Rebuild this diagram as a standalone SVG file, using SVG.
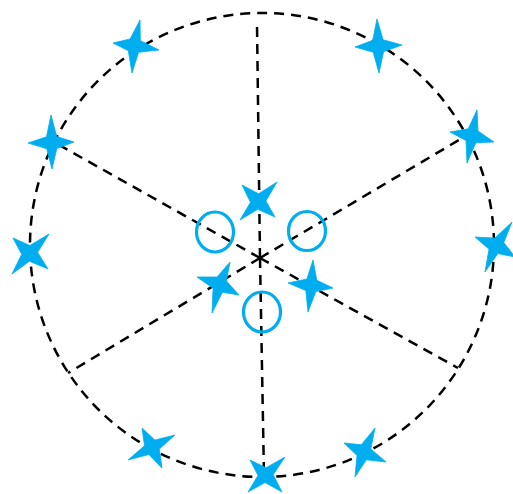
<svg xmlns="http://www.w3.org/2000/svg" width="513" height="494" viewBox="0 0 513 494">
<style>
.d{fill:none;stroke:#000;stroke-width:2.5;stroke-dasharray:10,7}
.s{fill:#00AEEF;stroke:#00AEEF;stroke-width:0.8;stroke-linejoin:round}
.o{fill:none;stroke:#00AEEF;stroke-width:3.2}
</style>
<rect width="513" height="494" fill="#fff"/>
<g id="connectors">
<circle class="d" cx="262" cy="245" r="232"/>
<line class="d" x1="260" y1="258" x2="257" y2="24"/>
<line class="d" x1="260" y1="258" x2="469" y2="134"/>
<line class="d" x1="260" y1="258" x2="458" y2="368"/>
<line class="d" x1="260" y1="258" x2="264" y2="476"/>
<line class="d" x1="260" y1="258" x2="68" y2="373"/>
<line class="d" x1="260" y1="258" x2="52" y2="141"/>
</g>
<g id="star1"><path class="s" d="M140,20 L140.3,40.6 L159,50 L138.6,52.3 L132,73 L128.3,50.7 L113,43 L130.1,39Z"/></g>
<g id="star2"><path class="s" d="M377,19 L383.1,39.8 L402,45 L383.6,51.7 L379,73 L373.2,52.2 L355,47 L372.7,40.3Z"/></g>
<g id="star3"><path class="s" d="M51,115 L56.7,136.6 L74,142 L56.8,148.6 L52,169 L46.7,148.7 L28,143 L46.5,136.8Z"/></g>
<g id="star4"><path class="s" d="M13,238 L29.9,245.5 L49,234 L37.6,252.35 L48,269 L29.4,261.2 L12,274 L21.7,254.3Z"/></g>
<g id="star5"><path class="s" d="M477,110 L478,131 L494,142 L475.8,142.8 L467,163 L466,140.5 L450,132 L468.2,128.8Z"/></g>
<g id="star6"><path class="s" d="M512,222 L503.8,242.5 L515,257 L497.8,253.6 L485,272 L489,249.2 L475,237 L494.9,238.1Z"/></g>
<g id="star7"><path class="s" d="M142,428 L154.9,440.1 L175,435 L159.3,449 L162,468 L148.9,454.5 L128,460 L144.5,445.7Z"/></g>
<g id="star8"><path class="s" d="M250,460 L266.1,467.7 L285,457 L273.2,474.7 L282,492 L265,482.5 L248,492 L258,475.4Z"/></g>
<g id="star9"><path class="s" d="M375,428 L370.8,448.9 L386,462 L366.3,459.8 L355,477 L357,455.5 L344,443 L361.4,444.7Z"/></g>
<g id="star10"><path class="s" d="M242,185 L258.65,193.8 L277,182 L265.9,200.9 L275,217 L257.7,209.3 L240,220 L250.5,202.3Z"/></g>
<g id="star11"><path class="s" d="M230,262 L226.4,281 L239,295 L222.5,292.2 L212,313 L213.1,288.3 L197,277 L217.1,277Z"/></g>
<g id="star12"><path class="s" d="M313,260 L316.8,280.2 L333,288 L315.8,291.6 L308,312 L305.8,290.5 L288,283 L306.9,279Z"/></g>
<g id="ring1"><ellipse class="o" cx="215" cy="232" rx="18.5" ry="20"/></g>
<g id="ring2"><ellipse class="o" cx="307" cy="231" rx="18.5" ry="19.5"/></g>
<g id="ring3"><ellipse class="o" cx="262" cy="312" rx="18.5" ry="20"/></g>
</svg>
